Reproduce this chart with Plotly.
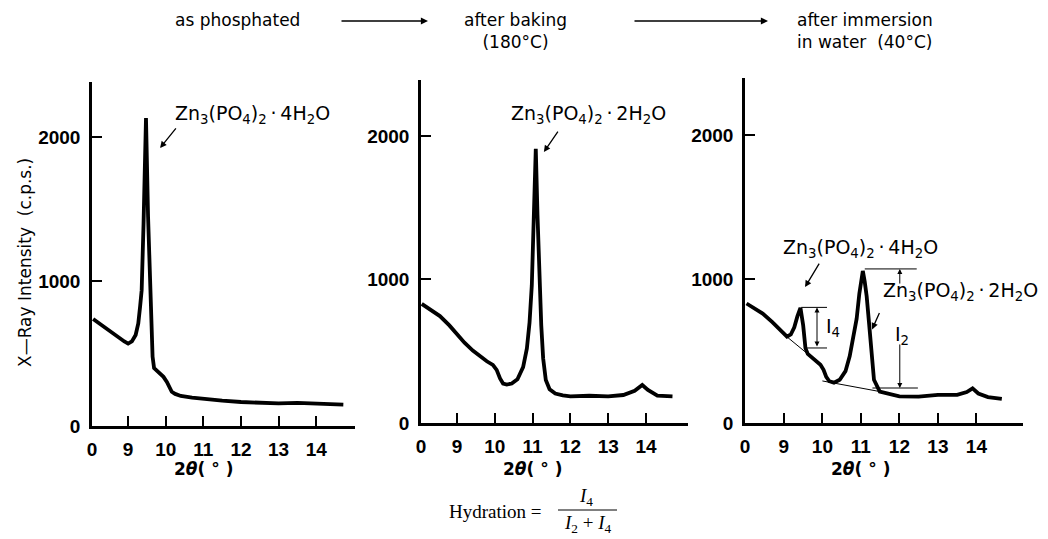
import plotly.graph_objects as go

# ---------------- data ----------------
# panel 1: as phosphated
p1_x = [8.07, 8.2, 8.35, 8.52, 8.74, 8.9, 9.0, 9.1, 9.2, 9.27, 9.32, 9.36, 9.41, 9.475, 9.53, 9.57, 9.61, 9.65, 9.69,
        9.8, 9.94, 10.03, 10.1, 10.16, 10.25, 10.4, 10.7, 11.0, 11.5, 12.0, 12.5, 13.0, 13.5, 14.0, 14.4, 14.72]
p1_y = [740, 715, 690, 653, 608, 585, 570, 585, 630, 710, 830, 940, 1400, 2130, 1450, 1050, 720, 480, 400,
        372, 340, 305, 265, 237, 222, 208, 197, 188, 176, 166, 158, 156, 160, 156, 152, 148]

# panel 2: after baking
p2_x = [8.07, 8.3, 8.55, 8.8, 9.0, 9.2, 9.42, 9.6, 9.79, 9.95, 10.05, 10.14, 10.22, 10.32, 10.45, 10.6, 10.75,
        10.85, 10.92, 10.98, 11.03, 11.085, 11.13, 11.18, 11.23, 11.28, 11.35, 11.45, 11.6, 11.8, 12.0, 12.5,
        13.0, 13.4, 13.7, 13.9, 14.05, 14.3, 14.7]
p2_y = [830, 790, 745, 680, 615, 560, 505, 465, 430, 405, 370, 310, 275, 268, 275, 305, 390,
        520, 700, 960, 1400, 1910, 1450, 1000, 680, 450, 300, 235, 205, 192, 185, 190,
        185, 195, 225, 265, 230, 190, 185]

# panel 3: after immersion in water
p3_x = [8.03, 8.2, 8.45, 8.7, 8.9, 9.08, 9.18, 9.27, 9.35, 9.43, 9.5, 9.56, 9.62, 9.73, 9.85, 9.95, 10.03, 10.1,
        10.18, 10.3, 10.45, 10.6, 10.71, 10.8, 10.89, 10.96, 11.05, 11.1, 11.15, 11.21, 11.26, 11.34, 11.49,
        11.7, 12.0, 12.5, 13.0, 13.5, 13.75, 13.9, 14.05, 14.3, 14.66]
p3_y = [830, 800, 760, 700, 645, 600, 615, 665, 740, 800, 680, 520, 480, 455, 430, 405, 370, 320,
        290, 280, 300, 360, 465, 590, 725, 900, 1056, 980, 880, 700, 560, 300, 218,
        205, 185, 183, 195, 195, 215, 240, 205, 180, 168]

# tangent baselines drawn under the two peaks of panel 3
base4_x = [9.05, 9.70]
base4_y = [605, 462]
base2_x = [10.0, 11.52]
base2_y = [292, 217]

x_tickvals = [9, 10, 11, 12, 13, 14]
x_ticktext = ["9", "10", "11", "12", "13", "14"]
y_tickvals = [0, 1000, 2000]
y_ticktext = ["0", "1000", "2000"]

# ---------------- layout helpers ----------------
W, H = 1048, 539
def fx(p):
    return p / W
def fy(p):
    return 1 - p / H

panels = [
    dict(xd=(92, 355), xr=(8.04, 15.03), yd=(426, 82), yt=2380),
    dict(xd=(421, 688), xr=(8.05, 15.11), yd=(423, 80), yt=2390),
    dict(xd=(745, 1023), xr=(7.99, 15.21), yd=(423, 78), yt=2396),
]

TICKFONT = dict(family="Liberation Sans, Arial, sans-serif", size=19, color="black", weight="bold")
LABFONT = dict(family="DejaVu Sans, Arial, sans-serif", size=17, color="black")
CMPFONT = dict(family="DejaVu Sans, Arial, sans-serif", size=19, color="black")

fig = go.Figure()
series = [(p1_x, p1_y), (p2_x, p2_y), (p3_x, p3_y)]
for i, (xs, ys) in enumerate(series):
    n = "" if i == 0 else str(i + 1)
    fig.add_trace(go.Scatter(x=xs, y=ys, mode="lines", xaxis="x" + n, yaxis="y" + n,
                             line=dict(color="black", width=3.8), showlegend=False, hoverinfo="skip"))

for bx, by in [(base4_x, base4_y), (base2_x, base2_y)]:
    fig.add_trace(go.Scatter(x=bx, y=by, mode="lines", xaxis="x3", yaxis="y3",
                             line=dict(color="black", width=1), showlegend=False, hoverinfo="skip"))

layout = dict(template="none", width=W, height=H, autosize=False,
              margin=dict(l=0, r=0, t=0, b=0, pad=0, autoexpand=False),
              paper_bgcolor="white", plot_bgcolor="white", showlegend=False)

for i, p in enumerate(panels):
    n = "" if i == 0 else str(i + 1)
    layout["xaxis" + n] = dict(
        domain=[fx(p["xd"][0]), fx(p["xd"][1])], range=list(p["xr"]), anchor="y" + n,
        tickvals=[p["xr"][0]] + x_tickvals, ticktext=["0"] + x_ticktext,
        ticks="inside", ticklen=10, tickwidth=1.5, tickcolor="black",
        showline=True, linewidth=2.5, linecolor="black", showgrid=False, zeroline=False,
        tickfont=TICKFONT, automargin=False, fixedrange=True, ticklabelstandoff=4)
    layout["yaxis" + n] = dict(
        domain=[fy(p["yd"][0]), fy(p["yd"][1])], range=[0, p["yt"]], anchor="x" + n,
        tickvals=y_tickvals, ticktext=y_ticktext,
        ticks="inside", ticklen=10, tickwidth=1.5, tickcolor="black",
        showline=True, linewidth=2.5, linecolor="black", showgrid=False, zeroline=False,
        tickfont=TICKFONT, automargin=False, fixedrange=True, ticklabelstandoff=5)

fig.update_layout(**layout)

ann = []
def ptext(text, px, py, font=LABFONT, xanchor="center", yanchor="middle", **kw):
    ann.append(dict(text=text, x=fx(px), y=fy(py), xref="paper", yref="paper", showarrow=False,
                    xanchor=xanchor, yanchor=yanchor, font=font, **kw))

# stage titles across the top
ptext("as phosphated", 237, 20)
ptext("after baking<br>(180°C)", 515, 31, align="center")
ptext("after immersion<br>in water  (40°C)", 795, 31, xanchor="left", align="left")
for x0, x1 in [(340, 428), (633, 768)]:
    ann.append(dict(text="", x=fx(x1), y=fy(21), xref="paper", yref="paper", ax=x0 - x1, ay=0,
                    showarrow=True, arrowhead=2, arrowsize=1.1, arrowwidth=1.3, arrowcolor="black"))

# y axis title
ptext("X—Ray Intensity  (c.p.s.)", 25, 263, textangle=-90)

# x axis titles
for n in ["", "2", "3"]:
    ann.append(dict(text="<b>2<i>θ</i>( ° )</b>", x=11, y=fy(469), xref="x" + n, yref="paper",
                    xanchor="center", yanchor="middle", showarrow=False,
                    font=dict(family="DejaVu Sans, Arial, sans-serif", size=17, color="black")))

# compound labels with arrows
c4 = "Zn<sub>3</sub>(PO<sub>4</sub>)<sub>2</sub>\u2009·\u20094H<sub>2</sub>O"
c2 = "Zn<sub>3</sub>(PO<sub>4</sub>)<sub>2</sub>\u2009·\u20092H<sub>2</sub>O"
def arrow(xv, yv, xr, yr, ax, ay):
    ann.append(dict(text="", x=xv, y=yv, xref=xr, yref=yr, ax=ax, ay=ay,
                    showarrow=True, arrowhead=2, arrowsize=1, arrowwidth=1.3, arrowcolor="black"))

ptext(c4, 252, 114, font=CMPFONT)
arrow(9.85, 1924, "x", "y", 17, -21)
ptext(c2, 588, 114, font=CMPFONT)
arrow(11.30, 1888, "x2", "y2", 15, -22)
ptext(c4, 860, 249, font=CMPFONT)
arrow(9.55, 944, "x3", "y3", 15, -25)
ptext(c2, 960, 291, font=CMPFONT)
arrow(11.29, 650, "x3", "y3", 8, -18)

# I4 / I2 dimension markers
ann.append(dict(text="", x=9.86, y=803, xref="x3", yref="y3", ax=9.86, ay=521, axref="x3", ayref="y3",
                showarrow=True, arrowhead=2, startarrowhead=2, arrowside="end+start",
                arrowsize=1, arrowwidth=1, arrowcolor="black"))
ann.append(dict(text="I<sub>4</sub>", x=10.27, y=660, xref="x3", yref="y3", showarrow=False,
                xanchor="center", yanchor="middle", font=CMPFONT))
ann.append(dict(text="", x=12.01, y=1070, xref="x3", yref="y3", ax=12.01, ay=958, axref="x3", ayref="y3",
                showarrow=True, arrowhead=2, arrowsize=1, arrowwidth=1, arrowcolor="black"))
ann.append(dict(text="", x=12.01, y=243, xref="x3", yref="y3", ax=12.01, ay=556, axref="x3", ayref="y3",
                showarrow=True, arrowhead=2, arrowsize=1, arrowwidth=1, arrowcolor="black"))
ann.append(dict(text="I<sub>2</sub>", x=12.07, y=610, xref="x3", yref="y3", showarrow=False,
                xanchor="center", yanchor="middle", font=CMPFONT))

# hydration formula
SER = dict(family="Liberation Serif, DejaVu Serif, serif", size=19, color="black")
ptext("Hydration =", 447, 511, font=SER, xanchor="left")
ptext("<i>I</i><sub>4</sub>", 586, 497, font=SER)
ptext("<i>I</i><sub>2</sub> + <i>I</i><sub>4</sub>", 588, 524, font=SER)

shapes = [
    dict(type="line", xref="paper", yref="paper", x0=fx(558), x1=fx(617), y0=fy(510), y1=fy(510),
         line=dict(color="black", width=1)),
    dict(type="line", xref="x3", yref="y3", x0=9.45, x1=10.12, y0=803, y1=803, line=dict(color="black", width=1)),
    dict(type="line", xref="x3", yref="y3", x0=9.55, x1=10.12, y0=521, y1=521, line=dict(color="black", width=1)),
    dict(type="line", xref="x3", yref="y3", x0=11.1, x1=12.45, y0=1070, y1=1070, line=dict(color="black", width=1)),
    dict(type="line", xref="x3", yref="y3", x0=11.3, x1=12.48, y0=243, y1=243, line=dict(color="black", width=1)),
]

fig.update_layout(annotations=ann, shapes=shapes)
fig.write_html("out.html")
